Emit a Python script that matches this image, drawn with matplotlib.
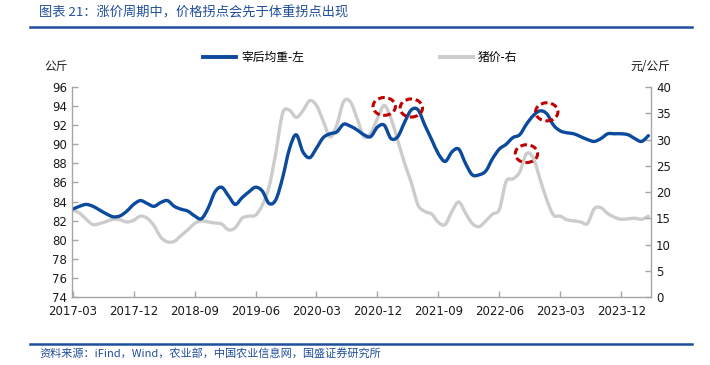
import numpy as np
import pandas as pd
import matplotlib.pyplot as plt
from matplotlib.patches import Ellipse, PathPatch
from matplotlib.path import Path
from matplotlib.lines import Line2D

plt.rcParams['font.family'] = ['DejaVu Sans', 'Noto Sans CJK SC']

# ===== DATA =====
months = [p.strftime('%Y-%m') for p in pd.period_range('2017-03', '2024-04', freq='M')]

weight = [83.2, 83.5, 83.7, 83.5, 83.1, 82.7, 82.4, 82.5, 83.0, 83.7,
          84.1, 83.8, 83.5, 83.9, 84.1, 83.5, 83.2, 83.0, 82.5, 82.2,
          83.3, 85.0, 85.5, 84.6, 83.7, 84.4, 85.0, 85.5, 85.1, 83.8,
          84.2, 86.5, 89.5, 91.0, 89.2, 88.6, 89.6, 90.7, 91.1, 91.3,
          92.1, 91.9, 91.5, 91.0, 90.8, 91.8, 92.0, 90.6, 90.8, 92.3,
          93.6, 93.6, 92.0, 90.5, 89.0, 88.2, 89.2, 89.5, 88.0, 86.8,
          86.8, 87.2, 88.5, 89.5, 90.0, 90.7, 91.0, 92.1, 93.0, 93.5,
          93.2, 92.0, 91.4, 91.2, 91.1, 90.8, 90.5, 90.3, 90.6, 91.1,
          91.1, 91.1, 91.0, 90.6, 90.3, 90.9]

price = [16.6, 16.0, 14.8, 13.8, 14.0, 14.4, 14.8, 14.7, 14.3, 14.6,
         15.4, 15.0, 13.6, 11.4, 10.5, 10.6, 11.7, 12.8, 14.0, 14.5,
         14.3, 14.1, 13.9, 12.8, 13.2, 15.0, 15.4, 15.6, 17.5, 21.0,
         27.5, 35.0, 35.6, 34.2, 35.5, 37.4, 36.5, 33.5, 30.5, 32.8,
         37.2, 37.2, 34.0, 30.5, 31.2, 34.0, 36.5, 34.0, 29.8, 25.5,
         21.8, 17.5, 16.3, 15.8, 14.2, 13.8, 16.3, 18.1, 16.0, 14.0,
         13.4, 14.5, 15.8, 16.7, 22.0, 22.5, 23.8, 27.3, 26.5, 22.5,
         18.5, 15.6, 15.4, 14.7, 14.5, 14.3, 14.0, 16.8, 17.0, 15.9,
         15.2, 14.8, 14.9, 15.0, 14.8, 15.4]

tick_labels = ['2017-03', '2017-12', '2018-09', '2019-06', '2020-03',
               '2020-12', '2021-09', '2022-06', '2023-03', '2023-12']

# turning points marked with dashed circles
price_marks = [('2021-01', 36.3), ('2022-10', 27.3)]
weight_marks = [('2021-05', 93.8), ('2023-01', 93.4)]


def smooth_path(xs, ys):
    # Excel-style smoothed line: Catmull-Rom through each point as cubic beziers
    p = np.column_stack([xs, ys]).astype(float)
    ext = np.vstack([p[0], p, p[-1]])
    verts = [p[0]]
    codes = [Path.MOVETO]
    for i in range(len(p) - 1):
        p0, p1, p2, p3 = ext[i], ext[i + 1], ext[i + 2], ext[i + 3]
        verts += [p1 + (p2 - p0) / 6, p2 - (p3 - p1) / 6, p2]
        codes += [Path.CURVE4] * 3
    return Path(verts, codes)


# ===== PLOT =====
blue = '#0B4A9C'
grey = '#CCCCCC'
red = '#C00000'
spine_c = '#A6A6A6'
txt_c = '#1A1A1A'

fig = plt.figure(figsize=(7.1, 3.65), dpi=100)
ax1 = fig.add_axes([0.1014, 0.1863, 0.8156, 0.5753])
ax2 = ax1.twinx()
ax1.set_zorder(ax2.get_zorder() + 1)
ax1.patch.set_visible(False)

x = np.arange(len(months))
ax2.add_patch(PathPatch(smooth_path(x, price), fill=False, ec=grey, lw=2.4,
                        joinstyle='round', capstyle='round'))
ax1.add_patch(PathPatch(smooth_path(x, weight), fill=False, ec=blue, lw=2.4,
                        joinstyle='round', capstyle='round'))

ax1.set_xlim(-0.1, 85.4)
ax1.set_ylim(74, 96)
ax1.set_yticks(np.arange(74, 97, 2))
ax2.set_ylim(0, 40)
ax2.set_yticks(np.arange(0, 41, 5))
ax1.set_xticks([months.index(t) for t in tick_labels])
ax1.set_xticklabels(tick_labels)

for ax in (ax1, ax2):
    for s in ax.spines.values():
        s.set_visible(False)
    ax.tick_params(direction='in', length=4, color=spine_c, labelsize=8.5,
                   labelcolor=txt_c, width=1)
ax1.spines['left'].set_visible(True)
ax1.spines['bottom'].set_visible(True)
ax2.spines['right'].set_visible(True)
for s in (ax1.spines['left'], ax1.spines['bottom'], ax2.spines['right']):
    s.set_color(spine_c)
    s.set_linewidth(1)
ax1.tick_params(axis='x', pad=6)

# dashed circles at turning points
for m, v in price_marks:
    ax2.add_patch(Ellipse((months.index(m), v), 3.3, 3.4, fill=False,
                          ec=red, lw=2.2, ls=(0, (2.2, 1.2)), zorder=5))
for m, v in weight_marks:
    ax1.add_patch(Ellipse((months.index(m), v), 3.3, 1.9, fill=False,
                          ec=red, lw=2.2, ls=(0, (2.2, 1.2)), zorder=5))

# axis unit labels
fig.text(0.063, 0.808, '公斤', fontsize=8.5, color=txt_c, family=['Noto Sans CJK SC'])
fig.text(0.888, 0.808, '元/公斤', fontsize=8.5, color=txt_c, family=['Noto Sans CJK SC'])

# legend
handles = [Line2D([], [], color=blue, lw=2.8), Line2D([], [], color=grey, lw=2.8)]
fig.legend(handles, ['宰后均重-左', '猪价-右'], ncol=2, loc='center',
           bbox_to_anchor=(0.507, 0.843), frameon=False, handlelength=2.8,
           handletextpad=0.4, columnspacing=11.5,
           prop={'family': 'Noto Sans CJK SC', 'size': 8.5})

# title, rules and source
fig.text(0.055, 0.965, '图表 21：涨价周期中，价格拐点会先于体重拐点出现', fontsize=9.5,
         color='#1F4E9A', va='center', family=['Noto Sans CJK SC'], style='italic')
fig.add_artist(Line2D([0.042, 0.975], [0.925, 0.925], color='#1F4E9A', lw=1.8))
fig.add_artist(Line2D([0.042, 0.975], [0.058, 0.058], color='#1F4E9A', lw=1.8))
fig.text(0.055, 0.033, '资料来源：iFind，Wind，农业部，中国农业信息网，国盛证券研究所', fontsize=8,
         color='#1F4E9A', va='center', family=['Noto Sans CJK SC'], style='italic')

fig.savefig('out.png', dpi=100)
